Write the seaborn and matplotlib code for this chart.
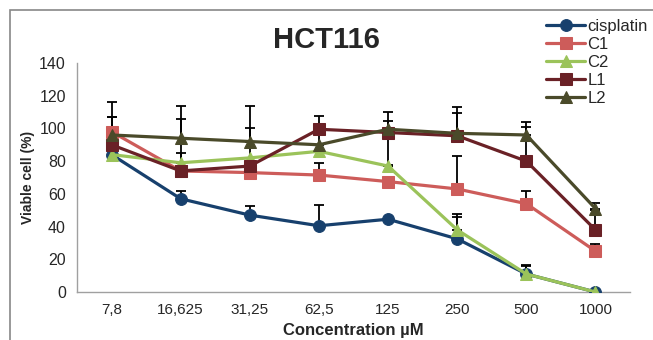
import numpy as np
import pandas as pd
import matplotlib
matplotlib.use("Agg")
import matplotlib.pyplot as plt
import seaborn as sns
from matplotlib.patches import Rectangle

categories = ["7,8", "16,625", "31,25", "62,5", "125", "250", "500", "1000"]

cisplatin = [84, 57, 47, 40.5, 44.5, 32.5, 11, 0]
c1 = [98, 74, 73, 71.5, 67.5, 63, 54, 25]
c2 = [84, 79, 82, 86, 77, 38, 11, 0]
l1 = [90, 74, 77, 99.5, 97.5, 95.5, 80, 38]
l2 = [96, 94, 92, 90, 99.5, 97, 96, 51]

cisplatin_err = [0, 5, 5.5, 12.5, 0, 15, 5.5, 0]
c1_err = [9, 0, 0, 7.5, 0, 20, 7.5, 4.5]
c2_err = [0, 6, 0, 0, 0, 8, 5, 0]
l1_err = [17, 32, 23.5, 8, 7, 14, 21, 12]
l2_err = [20, 20, 22, 10, 10.5, 16, 8, 3.5]
l2_err_low = [0, 0, 0, 0, 22, 0, 0, 0]

series_names = ["cisplatin", "C1", "C2", "L1", "L2"]
series_values = [cisplatin, c1, c2, l1, l2]
series_err = [cisplatin_err, c1_err, c2_err, l1_err, l2_err]
series_err_low = [None, None, None, None, l2_err_low]
colors = ["#17406D", "#CD5C5A", "#9BC35A", "#6A2126", "#4A4A2A"]
markers = ["o", "s", "^", "s", "^"]

sns.set_style("white")
plt.rcParams["font.family"] = ["Liberation Sans", "DejaVu Sans"]

fig = plt.figure(figsize=(6.53, 3.40), dpi=100)
ax = fig.add_axes([77 / 653, 1 - 292 / 340, (630 - 77) / 653, (292 - 63) / 340])

x = np.arange(len(categories))
for name, vals, err, errlow, col, mk in zip(series_names, series_values, series_err,
                                             series_err_low, colors, markers):
    low = np.zeros(len(vals)) if errlow is None else np.array(errlow)
    ax.errorbar(x, vals, yerr=[low, np.array(err)], fmt="none", ecolor="black",
                elinewidth=1.3, capsize=3.5, capthick=1.3, zorder=1)
for name, vals, col, mk in zip(series_names, series_values, colors, markers):
    sns.lineplot(x=x, y=vals, ax=ax, color=col, marker=mk, markersize=8.5,
                 markeredgecolor=col, linewidth=2.3, label=name, zorder=3)

ax.set_xlim(-0.5, len(categories) - 0.5)
ax.set_ylim(0, 140)
ax.set_yticks(np.arange(0, 141, 20))
ax.set_xticks(x)
ax.set_xticklabels(categories, fontsize=11)
ax.set_xticks(np.arange(-0.5, len(categories), 1), minor=True)
ax.tick_params(axis="x", which="major", length=0, pad=8)
ax.tick_params(axis="x", which="minor", length=5, color="#999999", direction="out")
ax.tick_params(axis="y", length=5, color="#999999", direction="out", labelsize=11.5, pad=3)
for s in ["top", "right"]:
    ax.spines[s].set_visible(False)
for s in ["left", "bottom"]:
    ax.spines[s].set_color("#A0A0A0")
    ax.spines[s].set_linewidth(1.0)

ax.set_xlabel("Concentration µM", fontsize=12, fontweight="bold", labelpad=4)
ax.set_ylabel("Viable cell (%)", fontsize=10, fontweight="bold", labelpad=3)
fig.text(0.5, 1 - 40 / 340, "HCT116", ha="center", va="center", fontsize=21, fontweight="bold")

leg = ax.legend(loc="upper left", bbox_to_anchor=(538 / 653, 1 - 11 / 340),
                bbox_transform=fig.transFigure, frameon=False, fontsize=12,
                handlelength=2.3, handletextpad=0.15, labelspacing=0.17, borderpad=0)

fig.patches.append(Rectangle((10 / 653, -0.1), 1.2, 1 - 10 / 340 + 0.1,
                             transform=fig.transFigure, fill=False,
                             edgecolor="#888888", linewidth=1.2))

fig.savefig("out.png", dpi=100)
